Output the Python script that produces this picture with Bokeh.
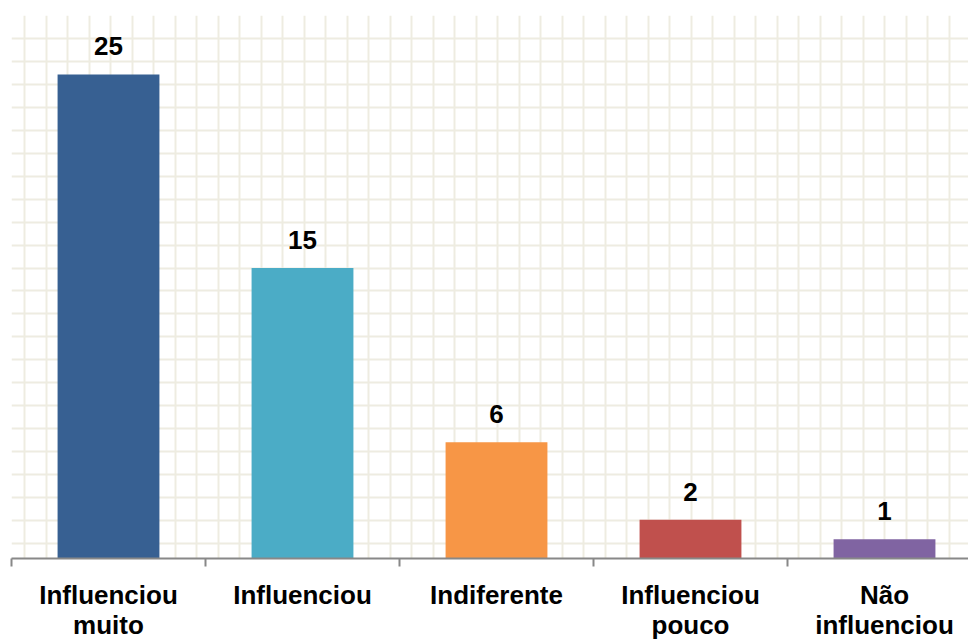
from bokeh.plotting import figure
from bokeh.models import Range1d, LinearAxis, FixedTicker, Grid
from bokeh.core.properties import value
from bokeh.embed import file_html
from bokeh.resources import INLINE

# ---- data ----
categories = ["Influenciou\nmuito", "Influenciou", "Indiferente", "Influenciou\npouco", "Não\ninfluenciou"]
counts = [25, 15, 6, 2, 1]
bar_colors = ["#376092", "#4BACC6", "#F79646", "#C0504D", "#8064A2"]

# ---- layout constants (styling only) ----
PX_PER_UNIT = 19.4          # vertical pixels per count
CAT_PX = 194.0              # horizontal pixels per category
FRAME_W = 957
FRAME_H = 544
Y_END = FRAME_H / PX_PER_UNIT
X_END = FRAME_W / CAT_PX
GRID_COLOR = "#EEECE1"
AXIS_COLOR = "#888888"
FONT = "Liberation Sans"

n = len(categories)
xs = [i + 0.5 for i in range(n)]

p = figure(width=968, height=642, output_backend="svg", toolbar_location=None,
           x_axis_type=None, y_axis_type=None,
           x_range=Range1d(0, X_END), y_range=Range1d(0, Y_END),
           min_border_left=11, min_border_right=0, min_border_top=15, min_border_bottom=83)
p.outline_line_color = None
p.background_fill_color = "white"
p.border_fill_color = "white"

# background pattern grid
hgrid_ticks = [(15 + 23 * k) / PX_PER_UNIT for k in range(24)]
vgrid_ticks = [(13 + 21.5 * k) / CAT_PX for k in range(60) if (13 + 21.5 * k) < FRAME_W]
p.add_layout(Grid(dimension=1, ticker=FixedTicker(ticks=hgrid_ticks),
                  grid_line_color=GRID_COLOR, grid_line_width=2), "center")
p.add_layout(Grid(dimension=0, ticker=FixedTicker(ticks=vgrid_ticks),
                  grid_line_color=GRID_COLOR, grid_line_width=2), "center")

# bars
p.vbar(x=xs, top=counts, width=0.525, color=bar_colors, line_color=None)

# value labels
p.text(x=xs, y=counts, text=[str(c) for c in counts], text_align="center",
       text_baseline="alphabetic", y_offset=-28,
       text_font=value(FONT), text_font_style="bold", text_font_size="26px",
       text_color="black")

# category axis
xaxis = LinearAxis(ticker=FixedTicker(ticks=xs, minor_ticks=list(range(n + 1))))
xaxis.major_label_overrides = {x: c for x, c in zip(xs, categories)}
xaxis.axis_line_color = AXIS_COLOR
xaxis.axis_line_width = 2
xaxis.major_tick_out = 0
xaxis.major_tick_in = 0
xaxis.minor_tick_out = 8
xaxis.minor_tick_in = 0
xaxis.minor_tick_line_color = AXIS_COLOR
xaxis.minor_tick_line_width = 2
xaxis.major_label_standoff = 13
xaxis.major_label_text_line_height = 1.0
xaxis.major_label_text_font = FONT
xaxis.major_label_text_font_style = "bold"
xaxis.major_label_text_font_size = "26px"
xaxis.major_label_text_color = "black"
p.add_layout(xaxis, "below")

open("out.html", "w").write(file_html(p, INLINE))
